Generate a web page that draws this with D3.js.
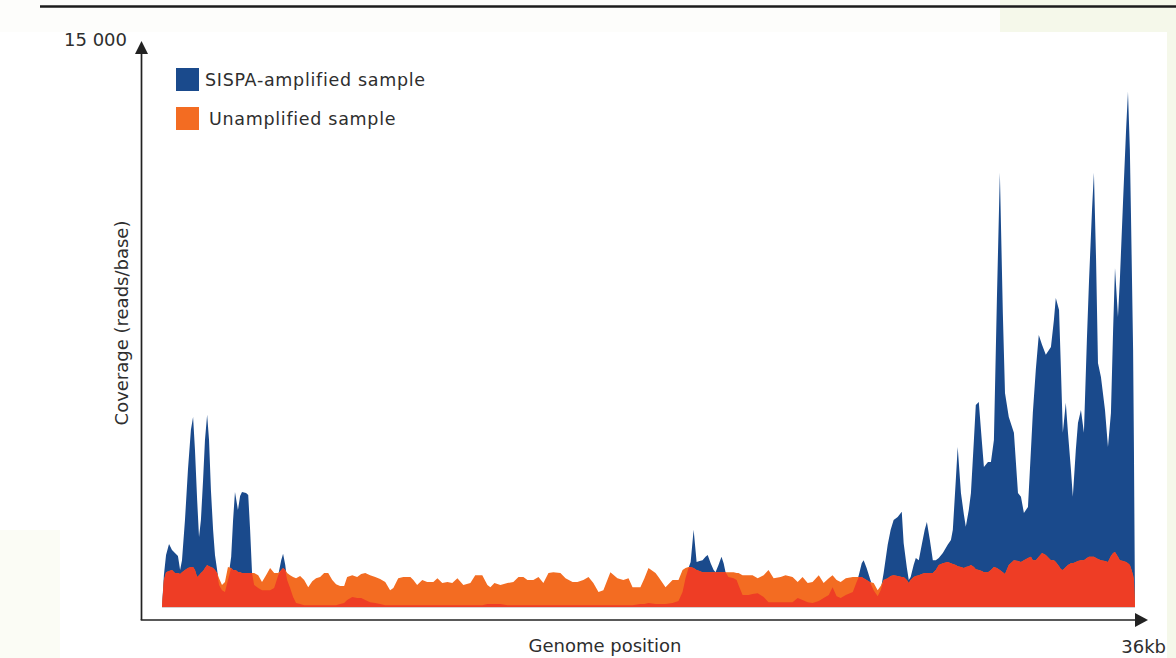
<!DOCTYPE html>
<html>
<head>
<meta charset="utf-8">
<script src="https://cdn.jsdelivr.net/npm/d3@7"></script>
<style>
  html, body { margin: 0; padding: 0; background: #f6f9ec; }
  svg { display: block; }
  text { font-family: "DejaVu Sans", Verdana, sans-serif; fill: #2e2e2e; }
</style>
</head>
<body>
<svg id="chart" width="1176" height="658"></svg>
<script>
// ---- data (genome position in kb, coverage in reads/base) ----
const positionKb = [
  0.00,0.07,0.15,0.26,0.37,0.48,0.59,0.67,0.74,0.85,0.96,1.07,1.15,1.22,1.30,1.37,1.44,1.52,1.59,1.67,
  1.74,1.81,1.89,1.96,2.04,2.11,2.22,2.33,2.44,2.56,2.63,2.70,2.78,2.81,2.89,2.96,3.11,3.19,3.26,3.33,
  3.41,3.56,3.70,3.85,4.00,4.15,4.30,4.41,4.48,4.56,4.63,4.74,4.85,4.96,5.11,5.26,5.41,5.56,5.70,5.85,
  6.00,6.15,6.30,6.44,6.59,6.74,6.85,7.04,7.22,7.37,7.52,7.70,7.89,8.07,8.26,8.44,8.56,8.74,8.93,9.19,
  9.30,9.44,9.63,9.81,10.04,10.19,10.37,10.56,10.74,10.93,11.15,11.41,11.59,11.85,12.04,12.15,12.30,12.52,12.78,13.00,
  13.19,13.37,13.52,13.74,13.93,14.11,14.30,14.48,14.74,14.93,15.19,15.37,15.59,15.78,15.96,16.15,16.33,16.59,16.85,17.07,
  17.26,17.41,17.70,17.85,18.00,18.26,18.37,18.63,18.89,19.11,19.26,19.37,19.48,19.56,19.67,19.78,19.89,20.00,20.11,20.19,
  20.30,20.41,20.48,20.59,20.70,20.78,20.85,20.96,21.15,21.26,21.33,21.48,21.70,21.85,22.04,22.26,22.44,22.63,22.89,23.07,
  23.33,23.52,23.70,23.89,24.07,24.30,24.48,24.67,24.81,24.96,25.11,25.30,25.56,25.70,25.78,25.89,25.96,26.07,26.19,26.33,
  26.48,26.59,26.70,26.85,26.96,27.07,27.22,27.37,27.44,27.56,27.63,27.70,27.81,27.89,28.00,28.11,28.22,28.30,28.41,28.52,
  28.63,28.74,28.89,29.07,29.19,29.26,29.37,29.44,29.56,29.67,29.74,29.85,29.93,30.04,30.11,30.22,30.33,30.41,30.56,30.67,
  30.78,30.89,31.00,31.11,31.19,31.33,31.52,31.67,31.78,31.89,32.04,32.15,32.22,32.33,32.44,32.56,32.70,32.89,33.00,33.07,
  33.19,33.26,33.33,33.44,33.52,33.63,33.70,33.81,33.89,34.00,34.11,34.22,34.30,34.41,34.48,34.56,34.63,34.74,34.89,35.00,
  35.11,35.19,35.26,35.37,35.44,35.56,35.67,35.74,35.81,35.85,35.93,35.96,36.00
];
const sispaCoverage = [
  0,850,1390,1680,1520,1440,1360,990,1250,2320,3660,4730,5070,4190,2860,1870,2320,3390,4460,5130,
  4460,3120,2060,1390,990,590,450,400,720,1340,2320,3070,2720,2590,2960,3070,3040,2990,2060,930,
  590,510,450,450,450,510,850,1250,1420,1120,720,510,270,110,80,50,50,50,50,50,
  50,50,50,50,80,110,190,270,240,240,190,130,110,80,50,50,50,50,50,50,
  50,50,50,50,50,50,50,50,50,50,50,50,50,50,80,80,80,80,50,50,
  50,50,50,50,50,50,50,50,50,50,50,50,50,50,50,50,50,50,50,50,
  50,50,80,80,110,80,80,80,110,160,400,770,1040,1200,2060,1200,1230,1250,1340,1390,
  1170,990,930,1120,1340,1170,930,800,770,720,590,320,320,350,370,270,130,130,130,130,
  130,240,190,130,110,160,240,320,530,290,240,320,400,670,850,1170,1250,1040,770,450,
  290,450,910,1660,2060,2320,2400,2540,1710,1040,720,800,1120,1310,1250,1660,2060,2270,1790,1250,
  1250,1310,1440,1660,1790,2060,3390,4270,3040,2460,2140,2590,3040,4460,5390,5470,4460,3740,3870,3870,
  4460,8200,11590,7850,5710,5070,4650,3040,2940,2510,2670,4190,5180,6330,7260,7000,6730,6940,7660,8250,
  7930,6330,4650,5450,4650,3660,2940,4190,4910,5260,4650,7130,8730,10600,11590,9260,6510,6140,5260,4270,
  5180,7390,9050,7740,8730,10860,12730,13750,12200,10520,6860,4270,0
];
const unamplifiedCoverage = [
  0,720,930,960,990,910,910,880,930,990,1040,1070,1070,990,800,850,910,960,1040,1120,
  1090,1070,1040,990,910,770,590,670,1070,1040,990,990,960,930,930,910,910,910,910,910,
  910,850,670,850,1040,910,910,990,1040,990,910,850,800,770,830,720,530,690,770,800,
  910,910,720,610,560,560,800,850,800,880,910,850,800,750,670,450,510,770,800,800,
  720,590,720,670,670,770,640,670,640,770,590,640,850,850,590,530,640,590,640,670,
  800,800,720,720,800,640,910,930,910,770,670,670,720,800,640,400,450,930,770,720,
  770,530,530,770,1040,910,800,530,720,720,990,1040,1070,1070,1040,990,960,930,930,930,
  930,930,930,930,930,930,930,930,930,910,910,850,850,850,770,850,990,770,800,850,
  800,670,800,640,670,850,640,770,850,720,670,770,800,800,800,800,770,720,670,640,
  450,560,720,770,830,850,830,800,800,720,640,720,800,830,850,880,910,910,910,910,
  990,1120,1170,1200,1170,1150,1120,1090,1070,1040,1070,1090,1120,1070,1010,990,960,930,930,990,
  1070,1040,990,930,880,1120,1250,1230,1200,1250,1310,1340,1250,1250,1340,1440,1390,1250,1250,1200,
  1090,1010,990,1070,1120,1170,1170,1200,1230,1250,1250,1310,1340,1340,1340,1310,1280,1250,1230,1200,
  1360,1440,1470,1340,1250,1230,1200,1170,1120,1040,850,720,0
];
const yTickValues = [15000];
const yTickLabels = ["15 000"];
const seriesNames = ["SISPA-amplified sample", "Unamplified sample"];
const seriesColors = ["#1a4a8c", "#f36c22"];
const overlapColor = "#ee3d25";

// ---- drawing ----
const svg = d3.select("#chart");
const W = 1176, H = 658;

// page background panels
svg.append("rect").attr("x", 0).attr("y", 0).attr("width", W).attr("height", H).attr("fill", "#f5f8ea");
svg.append("rect").attr("x", 0).attr("y", 0).attr("width", 1000).attr("height", 32).attr("fill", "#fdfdfb");
svg.append("rect").attr("x", 0).attr("y", 32).attr("width", 1167).attr("height", H - 32).attr("fill", "#ffffff");
svg.append("rect").attr("x", 0).attr("y", 530).attr("width", 60).attr("height", H - 530).attr("fill", "#fbfcf5");

// top rule
svg.append("line").attr("x1", 40).attr("x2", W).attr("y1", 6.5).attr("y2", 6.5)
  .attr("stroke", "#1c1c1c").attr("stroke-width", 2.6);

const x = d3.scaleLinear().domain([0, 36]).range([162, 1135]);
const y = d3.scaleLinear().domain([0, 15000]).range([607, 45]);

const data = positionKb.map((p, i) => ({
  p, s: sispaCoverage[i], u: unamplifiedCoverage[i], m: Math.min(sispaCoverage[i], unamplifiedCoverage[i])
}));

const areaFor = key => d3.area().x(d => x(d.p)).y0(y(0)).y1(d => y(d[key])).curve(d3.curveLinear);

svg.append("path").datum(data).attr("d", areaFor("s")).attr("fill", seriesColors[0]);
svg.append("path").datum(data).attr("d", areaFor("u")).attr("fill", seriesColors[1]);
svg.append("path").datum(data).attr("d", areaFor("m")).attr("fill", overlapColor);

// faint baseline
svg.append("line").attr("x1", x(0)).attr("x2", x(36)).attr("y1", y(0) + 0.5).attr("y2", y(0) + 0.5)
  .attr("stroke", "#d6cfcf").attr("stroke-width", 1);

// axes with arrows
const axisColor = "#222";
const ax0 = 141.5, ay0 = 620;
svg.append("line").attr("x1", ax0).attr("x2", ax0).attr("y1", ay0).attr("y2", 52)
  .attr("stroke", axisColor).attr("stroke-width", 1.7);
svg.append("path").attr("d", `M${ax0},41 L${ax0 - 6.5},54 L${ax0 + 6.5},54 Z`).attr("fill", axisColor);
svg.append("line").attr("x1", ax0 - 0.8).attr("x2", 1137).attr("y1", ay0).attr("y2", ay0)
  .attr("stroke", axisColor).attr("stroke-width", 1.7);
svg.append("path").attr("d", `M1148,${ay0} L1135,${ay0 - 7} L1135,${ay0 + 7} Z`).attr("fill", axisColor);

// y tick label
yTickValues.forEach((v, i) => {
  svg.append("text").attr("x", 127).attr("y", y(v) + 1).attr("text-anchor", "end")
    .attr("font-size", 18).text(yTickLabels[i]);
});

// axis titles
svg.append("text").attr("transform", "translate(128,323) rotate(-90)").attr("text-anchor", "middle")
  .attr("font-size", 18).text("Coverage (reads/base)");
svg.append("text").attr("x", 605).attr("y", 652).attr("text-anchor", "middle")
  .attr("font-size", 18).text("Genome position");
svg.append("text").attr("x", 1166).attr("y", 653).attr("text-anchor", "end")
  .attr("font-size", 18).text("36kb");

// legend
const legendY = [68, 107];
const legendTextX = [205, 209];
seriesNames.forEach((name, i) => {
  svg.append("rect").attr("x", 176).attr("y", legendY[i]).attr("width", 23).attr("height", 23)
    .attr("fill", seriesColors[i]);
  svg.append("text").attr("x", legendTextX[i]).attr("y", legendY[i] + 18)
    .attr("font-size", 17.5).attr("letter-spacing", 0.7).text(name);
});
</script>
</body>
</html>
